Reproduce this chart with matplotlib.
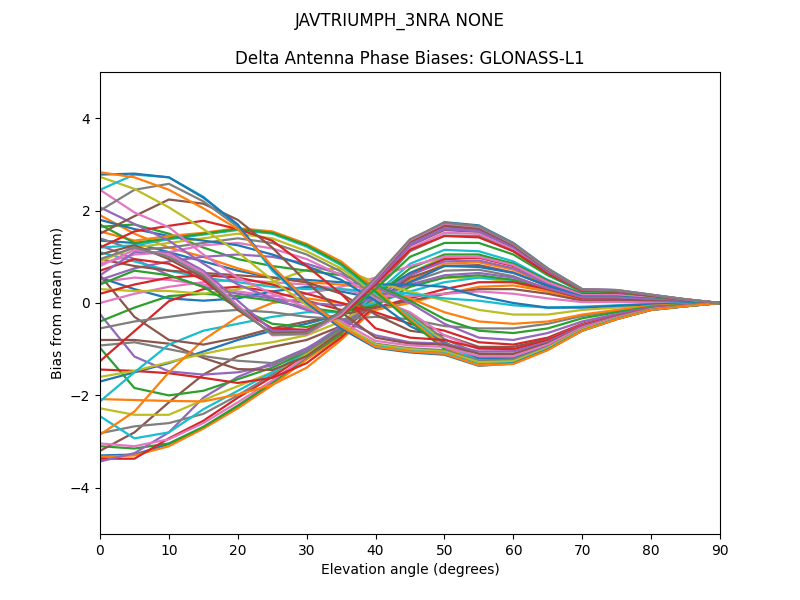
import matplotlib
matplotlib.use('Agg')
import matplotlib.pyplot as plt

# elevation angles (degrees)
elev = [0, 5, 10, 15, 20, 25, 30, 35, 40, 45, 50, 55, 60, 65, 70, 75, 80, 85, 90]

# lines starting low, peaking near 50 deg
g1a = [-3.30, -3.28, -3.05, -2.70, -2.25, -1.75, -1.20, -0.65, 0.45, 1.35, 1.75, 1.68, 1.30, 0.75, 0.30, 0.28, 0.18, 0.08, 0.0]
g1b = [-3.33, -3.30, -3.10, -2.72, -2.28, -1.78, -1.22, -0.72, 0.40, 1.30, 1.72, 1.66, 1.28, 0.73, 0.29, 0.27, 0.17, 0.08, 0.0]
g1c = [-3.10, -3.15, -3.04, -2.68, -2.22, -1.72, -1.17, -0.68, 0.48, 1.36, 1.70, 1.62, 1.26, 0.71, 0.28, 0.26, 0.16, 0.07, 0.0]
g1d = [-3.37, -3.37, -2.93, -2.55, -2.05, -1.60, -1.10, -0.60, 0.50, 1.32, 1.66, 1.60, 1.24, 0.70, 0.27, 0.25, 0.16, 0.07, 0.0]
g1e = [-3.43, -3.25, -2.80, -2.05, -1.60, -1.30, -0.98, -0.55, 0.42, 1.28, 1.62, 1.57, 1.22, 0.68, 0.26, 0.24, 0.15, 0.07, 0.0]
g1f = [-3.20, -2.80, -2.15, -1.55, -1.15, -0.95, -0.80, -0.50, 0.38, 1.24, 1.58, 1.54, 1.20, 0.66, 0.25, 0.23, 0.15, 0.07, 0.0]
g1g = [-3.04, -3.10, -2.95, -2.60, -2.15, -1.68, -1.15, -0.62, 0.35, 1.18, 1.52, 1.50, 1.16, 0.65, 0.24, 0.23, 0.14, 0.06, 0.0]
g1h = [-2.82, -2.67, -2.60, -2.40, -2.00, -1.55, -1.05, -0.55, 0.30, 1.12, 1.46, 1.45, 1.12, 0.62, 0.23, 0.22, 0.14, 0.06, 0.0]

# V-shaped bundle (dip near 25-30 deg)
v1 = [0.95, 1.20, 1.00, 0.60, -0.10, -0.68, -0.66, -0.20, 0.55, 1.38, 1.74, 1.66, 1.29, 0.74, 0.30, 0.28, 0.18, 0.08, 0.0]
v2 = [0.80, 1.15, 1.05, 0.65, -0.05, -0.70, -0.68, -0.25, 0.52, 1.36, 1.72, 1.65, 1.28, 0.73, 0.30, 0.28, 0.18, 0.08, 0.0]
v3 = [1.05, 1.25, 0.95, 0.55, -0.15, -0.65, -0.64, -0.18, 0.50, 1.33, 1.68, 1.61, 1.25, 0.71, 0.29, 0.27, 0.17, 0.08, 0.0]
v4 = [0.60, 1.10, 1.10, 0.70, 0.05, -0.60, -0.62, -0.22, 0.45, 1.25, 1.60, 1.55, 1.21, 0.68, 0.28, 0.26, 0.17, 0.07, 0.0]
v5 = [0.70, 0.95, 0.85, 0.50, -0.10, -0.55, -0.58, -0.28, 0.40, 1.15, 1.45, 1.42, 1.12, 0.64, 0.27, 0.25, 0.16, 0.07, 0.0]
v6 = [0.40, 0.70, 0.60, 0.35, -0.10, -0.45, -0.52, -0.30, 0.30, 1.00, 1.30, 1.30, 1.05, 0.60, 0.25, 0.24, 0.15, 0.07, 0.0]

# plateau near 1.5 then down to the dip near 55 deg
p1 = [1.55, 1.35, 1.45, 1.52, 1.62, 1.55, 1.28, 0.90, 0.30, -0.35, -0.95, -1.30, -1.28, -0.98, -0.58, -0.34, -0.15, -0.07, 0.0]
p2 = [1.70, 1.30, 1.40, 1.50, 1.60, 1.52, 1.25, 0.85, 0.25, -0.40, -1.00, -1.33, -1.30, -1.00, -0.60, -0.35, -0.15, -0.07, 0.0]
p3 = [1.20, 1.25, 1.38, 1.48, 1.58, 1.50, 1.22, 0.82, 0.22, -0.30, -0.90, -1.25, -1.24, -0.95, -0.56, -0.33, -0.14, -0.07, 0.0]
p4 = [0.90, 1.20, 1.30, 1.40, 1.50, 1.40, 1.12, 0.75, 0.20, -0.28, -0.85, -1.18, -1.18, -0.90, -0.53, -0.31, -0.14, -0.06, 0.0]
p5 = [1.40, 1.15, 1.20, 1.30, 1.40, 1.30, 1.05, 0.68, 0.15, -0.25, -0.78, -1.10, -1.12, -0.86, -0.50, -0.30, -0.13, -0.06, 0.0]
p6 = [0.85, 1.05, 1.10, 1.25, 1.30, 1.18, 0.95, 0.60, 0.10, -0.20, -0.70, -1.00, -1.02, -0.80, -0.47, -0.28, -0.12, -0.06, 0.0]

# lines starting high, falling steeply
t1 = [2.83, 2.72, 2.45, 2.05, 1.60, 0.80, 0.05, -0.50, -0.95, -1.05, -1.10, -1.35, -1.32, -1.02, -0.60, -0.35, -0.15, -0.07, 0.0]
t2 = [2.78, 2.80, 2.72, 2.28, 1.70, 0.75, 0.00, -0.55, -0.97, -1.07, -1.12, -1.36, -1.31, -1.01, -0.60, -0.35, -0.15, -0.07, 0.0]
t3 = [2.45, 2.78, 2.72, 2.30, 1.68, 0.70, 0.02, -0.52, -0.93, -1.04, -1.08, -1.33, -1.30, -1.00, -0.59, -0.34, -0.15, -0.07, 0.0]
t4 = [2.73, 2.47, 2.07, 1.60, 1.10, 0.50, -0.05, -0.45, -0.90, -1.00, -1.05, -1.28, -1.26, -0.97, -0.57, -0.33, -0.14, -0.07, 0.0]
t5 = [2.00, 2.45, 2.58, 2.20, 1.65, 0.78, 0.08, -0.48, -0.88, -0.98, -1.02, -1.25, -1.22, -0.95, -0.56, -0.33, -0.14, -0.07, 0.0]
t6 = [2.45, 1.96, 1.64, 1.05, 0.55, 0.20, -0.10, -0.40, -0.82, -0.92, -0.95, -1.15, -1.15, -0.90, -0.53, -0.31, -0.13, -0.06, 0.0]
t7 = [1.50, 1.88, 2.24, 2.15, 1.80, 1.20, 0.45, -0.20, -0.75, -0.88, -0.90, -1.10, -1.10, -0.87, -0.52, -0.30, -0.13, -0.06, 0.0]
t8 = [2.07, 1.71, 1.35, 0.85, 0.40, 0.10, -0.15, -0.35, -0.70, -0.85, -0.88, -1.05, -1.05, -0.84, -0.50, -0.29, -0.12, -0.06, 0.0]
t9 = [1.20, 1.55, 1.67, 1.78, 1.60, 1.35, 0.80, 0.20, -0.55, -0.75, -0.80, -0.98, -1.00, -0.80, -0.48, -0.28, -0.12, -0.06, 0.0]

# flat-ish low lines that rise after 30 deg
m1 = [-1.44, -1.47, -1.52, -1.62, -1.73, -1.62, -1.30, -0.75, -0.05, 0.60, 0.95, 0.98, 0.80, 0.45, 0.18, 0.18, 0.12, 0.05, 0.0]
m2 = [-2.08, -2.10, -2.12, -2.13, -1.98, -1.77, -1.40, -0.80, -0.10, 0.50, 0.85, 0.88, 0.72, 0.40, 0.15, 0.16, 0.11, 0.05, 0.0]
m3 = [-0.80, -0.80, -0.88, -1.19, -1.43, -1.45, -1.15, -0.62, 0.00, 0.55, 0.80, 0.82, 0.66, 0.36, 0.13, 0.14, 0.10, 0.04, 0.0]
m4 = [-0.92, -0.85, -1.00, -1.15, -1.25, -1.30, -1.05, -0.58, 0.05, 0.45, 0.70, 0.72, 0.58, 0.30, 0.10, 0.12, 0.09, 0.04, 0.0]
m5 = [-2.28, -2.42, -2.42, -2.10, -1.80, -1.50, -1.10, -0.60, 0.10, 0.65, 1.00, 1.00, 0.82, 0.46, 0.18, 0.18, 0.12, 0.05, 0.0]
m6 = [-2.45, -2.93, -2.80, -2.30, -1.90, -1.50, -1.05, -0.55, 0.20, 0.85, 1.15, 1.12, 0.90, 0.50, 0.20, 0.20, 0.13, 0.06, 0.0]
m7 = [-1.60, -1.47, -1.28, -1.10, -0.95, -0.85, -0.70, -0.40, 0.05, 0.40, 0.55, 0.55, 0.45, 0.25, 0.08, 0.10, 0.07, 0.03, 0.0]

# crossing lines at low elevation
x1 = [-0.97, -1.84, -2.00, -1.90, -1.65, -1.40, -1.05, -0.55, 0.15, 0.75, 1.05, 1.05, 0.85, 0.48, 0.19, 0.19, 0.12, 0.05, 0.0]
x2 = [-0.24, -1.16, -1.48, -1.55, -1.50, -1.35, -1.00, -0.50, 0.10, 0.60, 0.90, 0.92, 0.75, 0.42, 0.16, 0.17, 0.11, 0.05, 0.0]
x3 = [-1.26, -0.61, 0.04, 0.30, 0.35, 0.25, 0.05, -0.15, -0.10, 0.10, 0.30, 0.45, 0.45, 0.30, 0.10, 0.10, 0.06, 0.03, 0.0]
x4 = [-2.13, -1.50, -0.90, -0.60, -0.45, -0.30, -0.20, -0.20, 0.00, 0.25, 0.45, 0.55, 0.50, 0.30, 0.10, 0.10, 0.07, 0.03, 0.0]
x5 = [-2.85, -2.35, -1.50, -0.80, -0.30, 0.00, 0.10, 0.00, -0.15, 0.00, 0.20, 0.35, 0.38, 0.25, 0.08, 0.08, 0.05, 0.02, 0.0]
x6 = [0.60, -0.30, -0.80, -0.90, -0.75, -0.55, -0.40, -0.25, -0.10, 0.05, 0.20, 0.30, 0.30, 0.20, 0.05, 0.06, 0.04, 0.02, 0.0]

# mid lines ending near zero
y1 = [1.90, 1.50, 1.20, 1.00, 0.75, 0.55, 0.45, 0.40, 0.30, 0.10, -0.20, -0.40, -0.45, -0.40, -0.25, -0.15, -0.06, -0.03, 0.0]
y2 = [0.30, 0.26, 0.26, 0.20, 0.30, 0.45, 0.72, 0.74, 0.45, 0.25, 0.05, -0.15, -0.25, -0.25, -0.15, -0.10, -0.04, -0.02, 0.0]
y3 = [1.65, 1.70, 1.50, 1.20, 0.95, 0.80, 0.70, 0.60, 0.40, 0.05, -0.35, -0.60, -0.65, -0.55, -0.33, -0.20, -0.08, -0.04, 0.0]
y4 = [0.50, 0.75, 0.90, 1.00, 1.05, 1.00, 0.85, 0.62, 0.35, 0.00, -0.45, -0.75, -0.80, -0.65, -0.40, -0.24, -0.10, -0.05, 0.0]
y5 = [1.10, 0.90, 0.70, 0.55, 0.45, 0.35, 0.30, 0.30, 0.25, 0.20, 0.10, 0.05, -0.05, -0.10, -0.08, -0.05, -0.02, -0.01, 0.0]
y6 = [0.00, 0.20, 0.35, 0.45, 0.50, 0.45, 0.40, 0.30, 0.15, 0.15, 0.20, 0.25, 0.20, 0.10, 0.02, 0.02, 0.01, 0.00, 0.0]

# extra in-between lines
n1 = [1.25, 0.95, 0.60, 0.35, 0.20, 0.10, 0.00, -0.05, 0.10, 0.40, 0.60, 0.65, 0.55, 0.32, 0.12, 0.12, 0.08, 0.03, 0.0]
n2 = [0.45, 0.55, 0.50, 0.40, 0.25, 0.15, 0.20, 0.35, 0.55, 0.80, 1.00, 1.00, 0.82, 0.45, 0.17, 0.17, 0.11, 0.05, 0.0]
n3 = [1.35, 1.30, 1.10, 0.90, 0.70, 0.55, 0.50, 0.45, 0.40, 0.40, 0.35, 0.15, 0.00, -0.10, -0.10, -0.06, -0.03, -0.01, 0.0]
n4 = [-0.55, -0.40, -0.30, -0.20, -0.15, -0.20, -0.30, -0.35, -0.30, -0.35, -0.50, -0.55, -0.55, -0.45, -0.28, -0.17, -0.07, -0.03, 0.0]
n5 = [0.20, 0.40, 0.55, 0.60, 0.55, 0.40, 0.20, 0.00, -0.20, -0.45, -0.60, -0.85, -0.90, -0.75, -0.45, -0.27, -0.11, -0.05, 0.0]
n6 = [-1.70, -1.50, -1.30, -1.05, -0.80, -0.60, -0.45, -0.25, 0.20, 0.65, 0.95, 1.00, 0.85, 0.48, 0.19, 0.19, 0.12, 0.05, 0.0]
n7 = [0.95, 0.80, 0.70, 0.65, 0.60, 0.55, 0.45, 0.20, -0.25, -0.60, -0.70, -0.95, -0.95, -0.78, -0.46, -0.28, -0.12, -0.06, 0.0]
n8 = [-0.40, -0.10, 0.15, 0.20, 0.15, 0.05, -0.10, -0.20, -0.05, 0.35, 0.55, 0.60, 0.50, 0.30, 0.12, 0.12, 0.08, 0.03, 0.0]
n9 = [1.80, 1.60, 1.45, 1.35, 1.25, 1.05, 0.80, 0.50, 0.05, -0.50, -0.85, -1.20, -1.20, -0.93, -0.55, -0.32, -0.14, -0.07, 0.0]
n10 = [0.55, 0.30, 0.10, 0.05, 0.10, 0.25, 0.35, 0.25, 0.10, 0.45, 0.80, 0.78, 0.65, 0.38, 0.14, 0.14, 0.09, 0.04, 0.0]

series = [g1a, g1b, g1c, g1d, g1e, g1f, g1g, g1h, m5, m6, n6, m2, x1, m1, x2, m3,
          n2, m4, m7, x4, n10, x5, n8, x3, n1, x6, y6, n4, y2, y5, n3, y1, y3,
          n5, y4, n7, p6, p5, p4, p3, n9, p1, p2, t9, t8, t7, t6, t5, t4, t3,
          t2, t1, v6, v5, v4, v3, v2, v1]

fig = plt.figure(figsize=(8, 6), dpi=100)
ax = fig.add_subplot(111)
for s in series:
    ax.plot(elev, s, linewidth=1.6)

fig.suptitle('JAVTRIUMPH_3NRA NONE')
ax.set_title('Delta Antenna Phase Biases: GLONASS-L1')
ax.set_xlabel('Elevation angle (degrees)')
ax.set_ylabel('Bias from mean (mm)')
ax.set_xlim(0, 90)
ax.set_ylim(-5, 5)

fig.savefig('out.png', dpi=100)
